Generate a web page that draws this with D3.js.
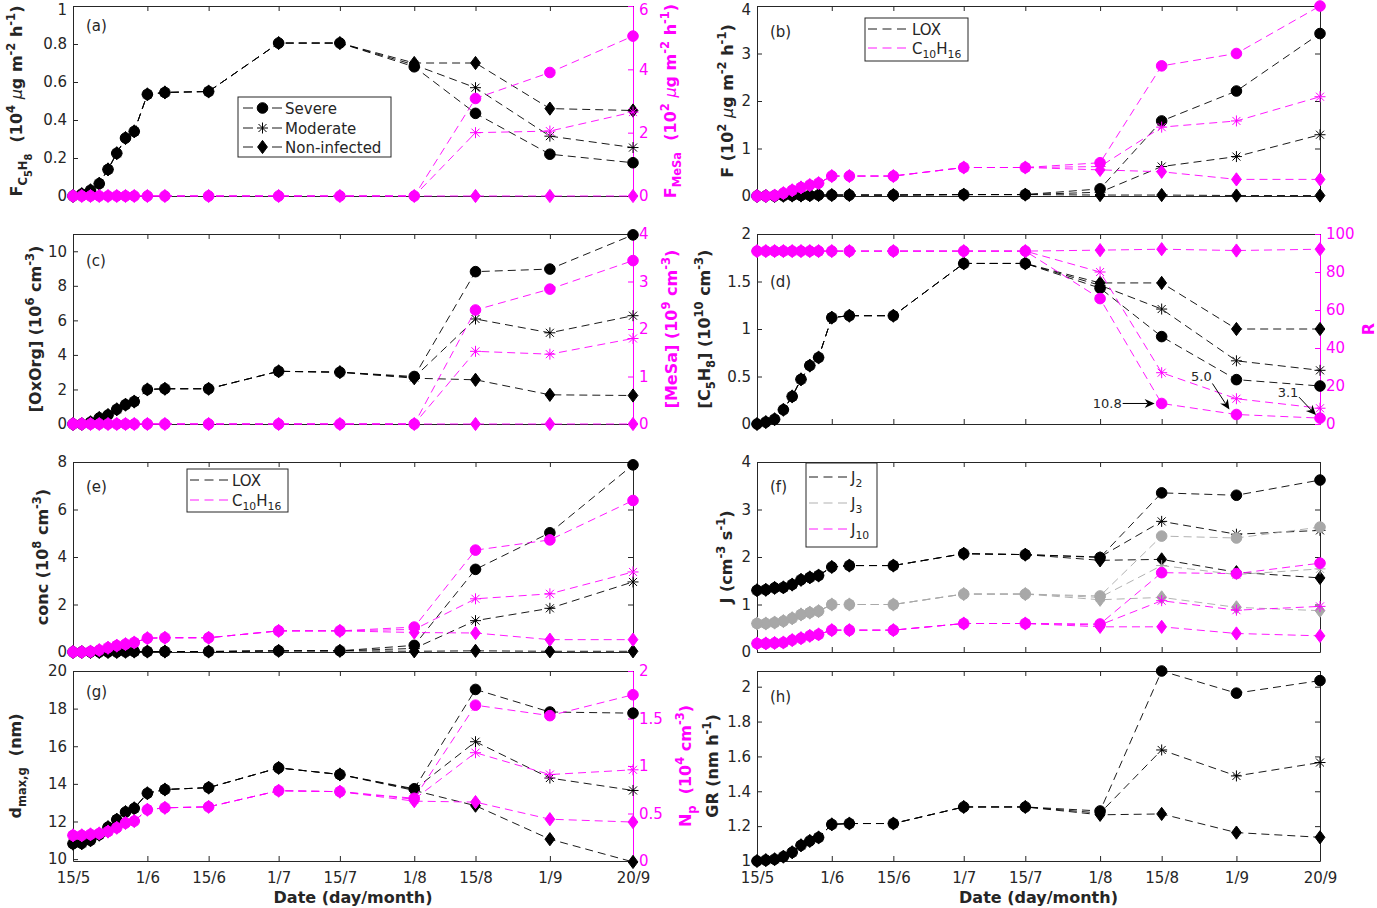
<!DOCTYPE html>
<html><head><meta charset="utf-8">
<script src="https://cdn.jsdelivr.net/npm/d3@7"></script>
<style>
body{margin:0;background:#fff}
svg{display:block}
text{font-family:"DejaVu Sans",sans-serif;white-space:pre}
</style>
</head><body>
<svg id="c" width="1377" height="908"></svg>
<script>
// ---------------- DATA ----------------
const dates = ["15/5","17/5","19/5","21/5","23/5","25/5","27/5","29/5","1/6","5/6","15/6","1/7","15/7","1/8","15/8","1/9","20/9"];
const xTickLabels = ["15/5","1/6","15/6","1/7","15/7","1/8","15/8","1/9","20/9"];

// (a) F_C5H8 (left) and F_MeSa (right)
const fIsoSevere   = [0,0.01,0.03,0.065,0.14,0.225,0.305,0.34,0.535,0.545,0.55,0.805,0.805,0.68,0.435,0.22,0.175];
const fIsoModerate = [0,0.01,0.03,0.065,0.14,0.225,0.305,0.34,0.535,0.545,0.55,0.805,0.805,0.69,0.57,0.315,0.255];
const fIsoNon      = [0,0.01,0.03,0.065,0.14,0.225,0.305,0.34,0.535,0.545,0.55,0.805,0.805,0.70,0.70,0.46,0.45];
const fMesaSevere   = [0,0,0,0,0,0,0,0,0,0,0,0,0,0,3.08,3.9,5.05];
const fMesaModerate = [0,0,0,0,0,0,0,0,0,0,0,0,0,0,2.0,2.05,2.65];
const fMesaNon      = [0,0,0,0,0,0,0,0,0,0,0,0,0,0,0,0,0];

// (b) F LOX and F C10H16
const fLoxSevere   = [0,0,0,0.005,0.01,0.01,0.015,0.02,0.02,0.02,0.02,0.03,0.03,0.15,1.58,2.21,3.42];
const fLoxModerate = [0,0,0,0.005,0.01,0.01,0.015,0.02,0.02,0.02,0.02,0.03,0.03,0.08,0.62,0.83,1.29];
const fLoxNon      = [0,0,0,0.005,0.01,0.01,0.015,0.02,0.02,0.02,0.02,0.03,0.03,0.02,0.02,0.01,0.01];
const fMtSevere   = [0,0,0.01,0.06,0.12,0.18,0.23,0.27,0.42,0.42,0.42,0.6,0.6,0.7,2.74,3.0,4.0];
const fMtModerate = [0,0,0.01,0.06,0.12,0.18,0.23,0.27,0.42,0.42,0.42,0.6,0.6,0.62,1.45,1.58,2.09];
const fMtNon      = [0,0,0.01,0.06,0.12,0.18,0.23,0.27,0.42,0.42,0.42,0.6,0.6,0.55,0.51,0.35,0.35];

// (c) [OxOrg] (left) and [MeSa] (right)
const oxSevere   = [0,0,0.1,0.35,0.52,0.85,1.12,1.3,2.0,2.04,2.04,3.05,3.0,2.75,8.82,8.97,10.95];
const oxModerate = [0,0,0.1,0.35,0.52,0.85,1.12,1.3,2.0,2.04,2.04,3.05,3.0,2.7,6.08,5.28,6.27];
const oxNon      = [0,0,0.1,0.35,0.52,0.85,1.12,1.3,2.0,2.04,2.04,3.05,3.0,2.65,2.56,1.69,1.65];
const mesaSevere   = [0,0,0,0,0,0,0,0,0,0,0,0,0,0,2.4,2.84,3.44];
const mesaModerate = [0,0,0,0,0,0,0,0,0,0,0,0,0,0,1.53,1.47,1.8];
const mesaNon      = [0,0,0,0,0,0,0,0,0,0,0,0,0,0,0,0,0];

// (d) [C5H8] (left) and R (right)
const isoSevere   = [0,0.02,0.05,0.15,0.29,0.47,0.615,0.70,1.12,1.14,1.14,1.69,1.69,1.43,0.92,0.467,0.40];
const isoModerate = [0,0.02,0.05,0.15,0.29,0.47,0.615,0.70,1.12,1.14,1.14,1.69,1.69,1.46,1.21,0.665,0.565];
const isoNon      = [0,0.02,0.05,0.15,0.29,0.47,0.615,0.70,1.12,1.14,1.14,1.69,1.69,1.485,1.485,1.0,1.0];
const rSevere   = [91,91,91,91,91,91,91,91,91,91,91,91,91,66,10.8,5.0,3.1];
const rModerate = [91,91,91,91,91,91,91,91,91,91,91,91,91,80,27,13.3,8.3];
const rNon      = [91,91,91,91,91,91,91,91,91,91,91,91,91,91.5,92,91.3,92];
const rNotes = ["10.8","5.0","3.1"];

// (e) conc LOX and C10H16
const cLoxSevere   = [0,0,0,0,0,0,0.01,0.02,0.02,0.02,0.02,0.05,0.05,0.28,3.48,5.02,7.88];
const cLoxModerate = [0,0,0,0,0,0,0.01,0.02,0.02,0.02,0.02,0.05,0.05,0.15,1.32,1.84,2.95];
const cLoxNon      = [0,0,0,0,0,0,0.01,0.02,0.02,0.02,0.02,0.05,0.05,0.03,0.05,0.03,0.03];
const cMtSevere   = [0,0,0.02,0.08,0.18,0.27,0.33,0.4,0.58,0.6,0.6,0.89,0.89,1.05,4.29,4.72,6.38];
const cMtModerate = [0,0,0.02,0.08,0.18,0.27,0.33,0.4,0.58,0.6,0.6,0.89,0.89,0.95,2.24,2.45,3.37];
const cMtNon      = [0,0,0.02,0.08,0.18,0.27,0.33,0.4,0.58,0.6,0.6,0.89,0.89,0.82,0.8,0.52,0.52];

// (f) J2, J3, J10
const j2Severe   = [1.30,1.31,1.35,1.36,1.42,1.52,1.57,1.61,1.79,1.82,1.82,2.07,2.05,1.99,3.35,3.30,3.62];
const j2Moderate = [1.30,1.31,1.35,1.36,1.42,1.52,1.57,1.61,1.79,1.82,1.82,2.07,2.05,2.0,2.75,2.48,2.56];
const j2Non      = [1.30,1.31,1.35,1.36,1.42,1.52,1.57,1.61,1.79,1.82,1.82,2.07,2.05,1.93,1.95,1.68,1.56];
const j3Severe   = [0.6,0.6,0.62,0.65,0.71,0.79,0.83,0.86,1.0,1.0,1.0,1.22,1.22,1.18,2.44,2.40,2.63];
const j3Moderate = [0.6,0.6,0.62,0.65,0.71,0.79,0.83,0.86,1.0,1.0,1.0,1.22,1.22,1.15,1.82,1.63,1.75];
const j3Non      = [0.6,0.6,0.62,0.65,0.71,0.79,0.83,0.86,1.0,1.0,1.0,1.22,1.22,1.10,1.15,0.94,0.87];
const j10Severe   = [0.18,0.18,0.19,0.2,0.25,0.29,0.34,0.37,0.46,0.46,0.46,0.6,0.6,0.59,1.67,1.65,1.87];
const j10Moderate = [0.18,0.18,0.19,0.2,0.25,0.29,0.34,0.37,0.46,0.46,0.46,0.6,0.6,0.57,1.08,0.88,0.96];
const j10Non      = [0.18,0.18,0.19,0.2,0.25,0.29,0.34,0.37,0.46,0.46,0.46,0.6,0.6,0.53,0.53,0.39,0.34];

// (g) d_max,g (left) and N_p (right)
const dSevere   = [10.82,10.84,11.0,11.3,11.7,12.1,12.5,12.7,13.5,13.7,13.8,14.85,14.5,13.74,19.02,17.82,17.76];
const dModerate = [10.82,10.84,11.0,11.3,11.7,12.1,12.5,12.7,13.5,13.7,13.8,14.85,14.5,13.7,16.24,14.31,13.65];
const dNon      = [10.82,10.84,11.0,11.3,11.7,12.1,12.5,12.7,13.5,13.7,13.8,14.85,14.5,13.65,12.84,11.06,9.85];
const npSevere   = [0.27,0.27,0.28,0.29,0.31,0.35,0.40,0.42,0.54,0.56,0.57,0.74,0.73,0.66,1.64,1.53,1.75];
const npModerate = [0.27,0.27,0.28,0.29,0.31,0.35,0.40,0.42,0.54,0.56,0.57,0.74,0.73,0.65,1.14,0.91,0.96];
const npNon      = [0.27,0.27,0.28,0.29,0.31,0.35,0.40,0.42,0.54,0.56,0.57,0.74,0.73,0.63,0.62,0.44,0.41];

// (h) GR
const grSevere   = [1.0,1.005,1.01,1.025,1.05,1.09,1.115,1.135,1.21,1.215,1.215,1.31,1.31,1.287,2.09,1.963,2.035];
const grModerate = [1.0,1.005,1.01,1.025,1.05,1.09,1.115,1.135,1.21,1.215,1.215,1.31,1.31,1.275,1.637,1.488,1.565];
const grNon      = [1.0,1.005,1.01,1.025,1.05,1.09,1.115,1.135,1.21,1.215,1.215,1.31,1.31,1.265,1.27,1.163,1.136];

const severityNames = ["Severe","Moderate","Non-infected"];

// ---------------- DRAWING ----------------
const svg = d3.select("#c");
const parse = d3.timeParse("%d/%m");
const xDates = dates.map(parse);
const xTicks = xTickLabels.map(parse);
const cols = [[73,633],[757,1320]];
const rows = [[6,196],[234,424],[462,652],[671,861]];
const MAG = "#ff00ff", GRAY = "#a8a8a8", AX = "#262626", BLK = "#000000";
const FS = 15, LFS = 16;
const DASH = "8,5";

const MK = {
  circle: g => g.append("circle").attr("r", 5.3),
  diamond: g => g.append("path").attr("d", "M0,-6.6L4.9,0L0,6.6L-4.9,0Z"),
  star: g => g.append("path").attr("d", "M-5.5,0H5.5M0,-5.5V5.5M-4,-4L4,4M-4,4L4,-4").attr("fill", "none").attr("stroke-width", 1)
};
const sevMarkers = ["circle","star","diamond"];

function rich(sel, segs, fs) {
  let cur = 0;
  segs.forEach(s => {
    const [t, lvl, it] = s;
    const shift = lvl === 1 ? -0.42*fs : lvl === -1 ? 0.32*fs : lvl === -2 ? 0.6*fs : 0;
    const size = lvl === 0 ? fs : lvl === -2 ? fs*0.62 : fs*0.72;
    const ts = sel.append("tspan").attr("dy", (shift - cur).toFixed(2)).attr("font-size", size.toFixed(2)).text(t);
    if (it) ts.attr("font-style", "italic").attr("font-weight", "normal");
    cur = shift;
  });
}

const mu = ["μ",0,true];
const LAB = {
  aL: [["F",0],["C",-1],["5",-2],["H",-1],["8",-2],["  (10",0],["4",1],[" ",0],mu,["g m",0],["-2",1],[" h",0],["-1",1],[")",0]],
  aR: [["F",0],["MeSa",-1],["  (10",0],["2",1],[" ",0],mu,["g m",0],["-2",1],[" h",0],["-1",1],[")",0]],
  bL: [["F (10",0],["2",1],[" ",0],mu,["g m",0],["-2",1],[" h",0],["-1",1],[")",0]],
  cL: [["[OxOrg] (10",0],["6",1],[" cm",0],["-3",1],[")",0]],
  cR: [["[MeSa] (10",0],["9",1],[" cm",0],["-3",1],[")",0]],
  dL: [["[C",0],["5",-1],["H",0],["8",-1],["] (10",0],["10",1],[" cm",0],["-3",1],[")",0]],
  dR: [["R",0]],
  eL: [["conc (10",0],["8",1],[" cm",0],["-3",1],[")",0]],
  fL: [["J (cm",0],["-3",1],[" s",0],["-1",1],[")",0]],
  gL: [["d",0],["max,g",-1],["  (nm)",0]],
  gR: [["N",0],["p",-1],["  (10",0],["4",1],[" cm",0],["-3",1],[")",0]],
  hL: [["GR (nm h",0],["-1",1],[")",0]]
};

function ser(vals, axis, color, marker) { return {vals, axis, color, marker}; }
function sev3(arrs, axis, color) { return arrs.map((a,i) => ser(a, axis, color, sevMarkers[i])); }

const panels = [
  {tag:"(a)", tagDy:25, col:0, row:0,
   left:{domain:[0,1], ticks:[0,0.2,0.4,0.6,0.8,1], label:LAB.aL, lx:22},
   right:{domain:[0,6], ticks:[0,2,4,6], label:LAB.aR, lx:676},
   series:[...sev3([fIsoSevere,fIsoModerate,fIsoNon],"L",BLK), ...sev3([fMesaSevere,fMesaModerate,fMesaNon],"R",MAG)],
   legend:{box:[238,97,391,157], ys:[108,128,147], sx:[243,282], tx:285,
     items: severityNames.map((n,i)=>({segs:[[n,0]], color:BLK, marker:sevMarkers[i]}))}},
  {tag:"(b)", tagDy:31, col:1, row:0,
   left:{domain:[0,4], ticks:[0,1,2,3,4], label:LAB.bL, lx:733},
   series:[...sev3([fLoxSevere,fLoxModerate,fLoxNon],"L",BLK), ...sev3([fMtSevere,fMtModerate,fMtNon],"L",MAG)],
   legend:{box:[865,18,968,61], ys:[29,48], sx:[868,910], tx:912,
     items:[{segs:[["LOX",0]], color:BLK},{segs:[["C",0],["10",-1],["H",0],["16",-1]], color:MAG}]}},
  {tag:"(c)", tagDy:32, col:0, row:1,
   left:{domain:[0,11], ticks:[0,2,4,6,8,10], label:LAB.cL, lx:41},
   right:{domain:[0,4], ticks:[0,1,2,3,4], label:LAB.cR, lx:677},
   series:[...sev3([oxSevere,oxModerate,oxNon],"L",BLK), ...sev3([mesaSevere,mesaModerate,mesaNon],"R",MAG)]},
  {tag:"(d)", tagDy:53, col:1, row:1,
   left:{domain:[0,2], ticks:[0,0.5,1,1.5,2], label:LAB.dL, lx:710},
   right:{domain:[0,100], ticks:[0,20,40,60,80,100], label:LAB.dR, lx:1374},
   series:[...sev3([isoSevere,isoModerate,isoNon],"L",BLK), ...sev3([rSevere,rModerate,rNon],"R",MAG)],
   notes:true},
  {tag:"(e)", tagDy:30, col:0, row:2,
   left:{domain:[0,8], ticks:[0,2,4,6,8], label:LAB.eL, lx:48},
   series:[...sev3([cLoxSevere,cLoxModerate,cLoxNon],"L",BLK), ...sev3([cMtSevere,cMtModerate,cMtNon],"L",MAG)],
   legend:{box:[187,469,288,512], ys:[480,500], sx:[190,230], tx:232,
     items:[{segs:[["LOX",0]], color:BLK},{segs:[["C",0],["10",-1],["H",0],["16",-1]], color:MAG}]}},
  {tag:"(f)", tagDy:30, col:1, row:2,
   left:{domain:[0,4], ticks:[0,1,2,3,4], label:LAB.fL, lx:732},
   series:[...sev3([j2Severe,j2Moderate,j2Non],"L",BLK), ...sev3([j3Severe,j3Moderate,j3Non],"L",GRAY), ...sev3([j10Severe,j10Moderate,j10Non],"L",MAG)],
   legend:{box:[806,463,877,547], ys:[477,503,529], sx:[809,849], tx:851,
     items:[{segs:[["J",0],["2",-1]], color:BLK},{segs:[["J",0],["3",-1]], color:GRAY},{segs:[["J",0],["10",-1]], color:MAG}]}},
  {tag:"(g)", tagDy:26, col:0, row:3, xlab:true,
   left:{domain:[9.9,20], ticks:[10,12,14,16,18,20], label:LAB.gL, lx:21},
   right:{domain:[0,2], ticks:[0,0.5,1,1.5,2], label:LAB.gR, lx:691},
   series:[...sev3([dSevere,dModerate,dNon],"L",BLK), ...sev3([npSevere,npModerate,npNon],"R",MAG)]},
  {tag:"(h)", tagDy:31, col:1, row:3, xlab:true,
   left:{domain:[1,2.09], ticks:[1,1.2,1.4,1.6,1.8,2], label:LAB.hL, lx:718},
   series:sev3([grSevere,grModerate,grNon],"L",BLK)}
];

const fmt = d => String(+d.toFixed(3));

function styleAxis(sel, color, fs) {
  sel.select(".domain").attr("stroke", color).attr("stroke-width", 1);
  sel.selectAll(".tick line").attr("stroke", color).attr("stroke-width", 1);
  sel.selectAll(".tick text").attr("fill", color).attr("font-size", fs).attr("font-family", "DejaVu Sans");
}

// keep the topmost tick label inside the page
function nudgeTop(sel, scale, y0) {
  sel.selectAll(".tick").filter(d => Math.abs(scale(d) - y0) < 1 && y0 < 10)
    .select("text").attr("dy", "0.55em");
}

function arrowHead(g, x1, y1, x2, y2) {
  const a = Math.atan2(y2 - y1, x2 - x1), L = 10, Wd = 4.5, N = 7;
  const c = Math.cos(a), s = Math.sin(a);
  const p = (u, v) => [x2 - u*c + v*s, y2 - u*s - v*c];
  const pts = [[x2,y2], p(L, Wd), p(N, 0), p(L, -Wd)];
  g.append("line").attr("x1", x1).attr("y1", y1).attr("x2", p(N,0)[0]).attr("y2", p(N,0)[1])
    .attr("stroke", BLK).attr("stroke-width", 1);
  g.append("path").attr("d", "M" + pts.map(q => q.join(",")).join("L") + "Z").attr("fill", BLK);
}

panels.forEach(p => {
  const [x0, x1] = cols[p.col], [y0, y1] = rows[p.row];
  const x = d3.scaleTime().domain([parse("15/5"), parse("20/9")]).range([x0, x1]);
  const yL = d3.scaleLinear().domain(p.left.domain).range([y1, y0]);
  const yR = p.right ? d3.scaleLinear().domain(p.right.domain).range([y1, y0]) : null;
  const g = svg.append("g");

  // axes (below data)
  const top = g.append("g").attr("transform", `translate(0,${y0})`)
    .call(d3.axisTop(x).tickValues(xTicks).tickSize(-5).tickSizeOuter(0).tickFormat(""));
  styleAxis(top, AX, FS);
  top.selectAll(".tick text").remove();
  const bot = g.append("g").attr("transform", `translate(0,${y1})`)
    .call(d3.axisBottom(x).tickValues(xTicks).tickSize(-5).tickSizeOuter(0).tickPadding(11)
      .tickFormat((d, i) => p.xlab ? xTickLabels[i] : ""));
  styleAxis(bot, AX, FS);
  if (!p.xlab) bot.selectAll(".tick text").remove();
  const lft = g.append("g").attr("transform", `translate(${x0},0)`)
    .call(d3.axisLeft(yL).tickValues(p.left.ticks).tickSize(-5).tickSizeOuter(0).tickPadding(6).tickFormat(fmt));
  styleAxis(lft, AX, FS);
  nudgeTop(lft, yL, y0);
  if (p.right) {
    const rgt = g.append("g").attr("transform", `translate(${x1},0)`)
      .call(d3.axisRight(yR).tickValues(p.right.ticks).tickSize(-5).tickSizeOuter(0).tickPadding(6).tickFormat(fmt));
    styleAxis(rgt, MAG, FS);
    nudgeTop(rgt, yR, y0);
  } else {
    const rgt = g.append("g").attr("transform", `translate(${x1},0)`)
      .call(d3.axisRight(yL).tickValues(p.left.ticks).tickSize(-5).tickSizeOuter(0).tickFormat(""));
    styleAxis(rgt, AX, FS);
    rgt.selectAll(".tick text").remove();
  }

  // axis labels
  const cy = (y0 + y1) / 2;
  const tl = g.append("text").attr("transform", `translate(${p.left.lx},${cy}) rotate(-90)`)
    .attr("text-anchor", "middle").attr("font-weight", "bold").attr("fill", AX).attr("font-size", LFS);
  rich(tl, p.left.label, LFS);
  if (p.right) {
    const tr = g.append("text").attr("transform", `translate(${p.right.lx},${cy}) rotate(-90)`)
      .attr("text-anchor", "middle").attr("font-weight", "bold").attr("fill", MAG).attr("font-size", LFS);
    rich(tr, p.right.label, LFS);
  }
  if (p.xlab) {
    g.append("text").attr("x", (x0 + x1) / 2).attr("y", 903).attr("text-anchor", "middle")
      .attr("font-weight", "bold").attr("font-size", LFS).attr("fill", AX).text("Date (day/month)");
  }

  // series
  p.series.forEach(s => {
    const y = s.axis === "R" ? yR : yL;
    const line = d3.line().x((d, i) => x(xDates[i])).y(d => y(d));
    g.append("path").attr("d", line(s.vals)).attr("fill", "none").attr("stroke", s.color)
      .attr("stroke-width", 0.9).attr("stroke-dasharray", DASH);
    s.vals.forEach((v, i) => {
      const m = g.append("g").attr("transform", `translate(${x(xDates[i])},${y(v)})`)
        .attr("fill", s.color).attr("stroke", s.color);
      MK[s.marker](m);
    });
  });

  // annotations for R
  if (p.notes) {
    const idx = [14, 15, 16];
    const pts = idx.map(i => [x(xDates[i]), yR(rSevere[i])]);
    arrowHead(g, pts[0][0] - 39, pts[0][1], pts[0][0] - 7, pts[0][1]);
    g.append("text").attr("x", pts[0][0] - 40).attr("y", pts[0][1] + 4.5).attr("text-anchor", "end")
      .attr("font-size", 13).attr("fill", AX).text(rNotes[0]);
    arrowHead(g, pts[1][0] - 24, pts[1][1] - 31, pts[1][0] - 7, pts[1][1] - 5);
    g.append("text").attr("x", pts[1][0] - 35).attr("y", pts[1][1] - 34).attr("text-anchor", "middle")
      .attr("font-size", 13).attr("fill", AX).text(rNotes[1]);
    arrowHead(g, pts[2][0] - 21, pts[2][1] - 21, pts[2][0] - 4, pts[2][1] - 3);
    g.append("text").attr("x", pts[2][0] - 32).attr("y", pts[2][1] - 21).attr("text-anchor", "middle")
      .attr("font-size", 13).attr("fill", AX).text(rNotes[2]);
  }

  // legend
  if (p.legend) {
    const L = p.legend;
    g.append("rect").attr("x", L.box[0]).attr("y", L.box[1]).attr("width", L.box[2] - L.box[0])
      .attr("height", L.box[3] - L.box[1]).attr("fill", "#fff").attr("stroke", AX).attr("stroke-width", 1);
    L.items.forEach((it, i) => {
      const yy = L.ys[i];
      const ln = g.append("line").attr("x1", L.sx[0]).attr("x2", L.sx[1]).attr("y1", yy).attr("y2", yy)
        .attr("stroke", it.color).attr("stroke-width", 0.9);
      if (it.marker) {
        ln.attr("stroke-dasharray", "10,19");
        const m = g.append("g").attr("transform", `translate(${(L.sx[0] + L.sx[1]) / 2},${yy})`)
          .attr("fill", it.color).attr("stroke", it.color);
        MK[it.marker](m);
      } else {
        ln.attr("stroke-dasharray", "9,5.5");
      }
      const t = g.append("text").attr("x", L.tx).attr("y", yy + 5.5).attr("font-size", FS).attr("fill", AX);
      rich(t, it.segs, FS);
    });
  }

  // tag
  g.append("text").attr("x", x0 + 13).attr("y", y0 + p.tagDy).attr("font-size", FS).attr("fill", AX).text(p.tag);
});
</script>
</body></html>
